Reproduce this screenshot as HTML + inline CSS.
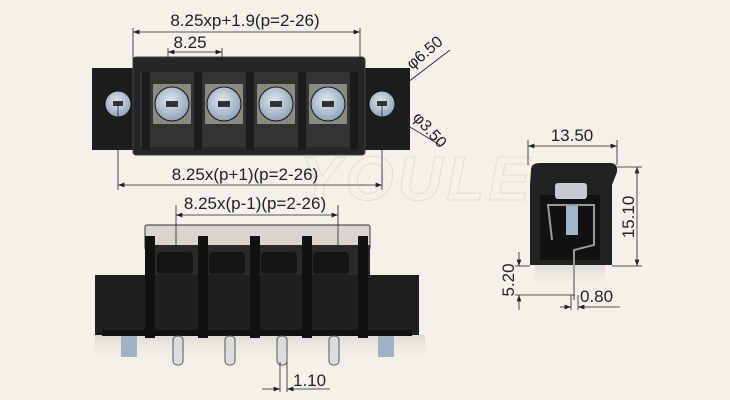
<!DOCTYPE html>
<html><head><style>
body{margin:0;background:#f3f1ea;}
svg{display:block;font-family:"Liberation Sans",sans-serif;}
</style></head><body>
<svg width="730" height="400" viewBox="0 0 730 400">
<defs>
<marker id="a" markerWidth="8" markerHeight="6" refX="8" refY="3" orient="auto"><path d="M0,0L8,3L0,6z" fill="#222"/></marker>
<marker id="b" markerWidth="8" markerHeight="6" refX="0" refY="3" orient="auto"><path d="M8,0L0,3L8,6z" fill="#222"/></marker>
<radialGradient id="s" cx="0.45" cy="0.4" r="0.6"><stop offset="0" stop-color="#dfe8f0"/><stop offset="1" stop-color="#8fa4b8"/></radialGradient>
<linearGradient id="sh" x1="0" y1="0" x2="0" y2="1"><stop offset="0" stop-color="#d4d2cc" stop-opacity=".7"/><stop offset="1" stop-color="#f3f1ea" stop-opacity="0"/></linearGradient>
</defs>
<rect width="730" height="400" fill="#f3f1ea"/>
<!-- watermark -->
<text x="300" y="200" font-size="62" font-style="italic" font-weight="bold" fill="none" stroke="#e0ddd5" stroke-width="1" letter-spacing="4">YOULE</text>

<!-- TOP VIEW -->
<rect x="92" y="68" width="318" height="82" fill="#1d1d1d"/>
<rect x="133" y="57" width="232" height="98" rx="3" fill="#262626" stroke="#444"/>
<rect x="140" y="72" width="218" height="75" fill="#333"/>
<g fill="#1a1a1a">
<rect x="142" y="72" width="8" height="78"/><rect x="194" y="72" width="8" height="78"/><rect x="246" y="72" width="8" height="78"/><rect x="298" y="72" width="8" height="78"/><rect x="350" y="72" width="8" height="78"/>
</g>
<g fill="#8a8a80"><rect x="153" y="84" width="38" height="40"/><rect x="205" y="84" width="38" height="40"/><rect x="257" y="84" width="38" height="40"/><rect x="309" y="84" width="38" height="40"/></g>
<g fill="url(#s)" stroke="#111">
<circle cx="172" cy="104" r="17"/><circle cx="224" cy="104" r="17"/><circle cx="276" cy="104" r="17"/><circle cx="328" cy="104" r="17"/>
<circle cx="118" cy="104" r="13"/><circle cx="382" cy="104" r="13"/>
</g>
<g fill="#333"><rect x="166" y="101" width="12" height="6"/><rect x="218" y="101" width="12" height="6"/><rect x="270" y="101" width="12" height="6"/><rect x="322" y="101" width="12" height="6"/><rect x="113" y="101" width="10" height="5"/><rect x="377" y="101" width="10" height="5"/></g>
<g stroke="#222" fill="none" stroke-width="0.8">
<line x1="133" y1="60" x2="133" y2="28"/><line x1="360" y1="60" x2="360" y2="28"/>
<line x1="133" y1="32" x2="360" y2="32" marker-start="url(#b)" marker-end="url(#a)"/>
<line x1="168" y1="62" x2="168" y2="48"/><line x1="222" y1="62" x2="222" y2="48"/>
<line x1="168" y1="52" x2="222" y2="52" marker-start="url(#b)" marker-end="url(#a)"/>
<line x1="118" y1="104" x2="118" y2="190"/><line x1="382" y1="104" x2="382" y2="190"/>
<line x1="118" y1="185" x2="382" y2="185" marker-start="url(#b)" marker-end="url(#a)"/>
<line x1="395" y1="92" x2="450" y2="50"/><line x1="390" y1="115" x2="440" y2="145"/>
</g>
<text x="245" y="26" font-size="17" text-anchor="middle" fill="#222">8.25xp+1.9(p=2-26)</text>
<text x="190" y="48" font-size="17" text-anchor="middle" fill="#222">8.25</text>
<text x="245" y="180" font-size="17" text-anchor="middle" fill="#222">8.25x(p+1)(p=2-26)</text>
<text x="0" y="0" font-size="16" fill="#222" transform="translate(412,70) rotate(-40)">φ6.50</text>
<text x="0" y="0" font-size="16" fill="#222" transform="translate(412,118) rotate(48)">φ3.50</text>

<!-- FRONT VIEW -->
<rect x="95" y="335" width="330" height="30" fill="url(#sh)"/>
<rect x="145" y="225" width="225" height="25" rx="2" fill="#d8d6cf" stroke="#333"/>
<rect x="145" y="245" width="225" height="32" fill="#2a2a2a"/>
<g fill="#151515"><rect x="157" y="252" width="36" height="22" rx="4"/><rect x="209" y="252" width="36" height="22" rx="4"/><rect x="261" y="252" width="36" height="22" rx="4"/><rect x="313" y="252" width="36" height="22" rx="4"/></g>
<rect x="95" y="275" width="324" height="60" fill="#1f1f1f"/>
<rect x="102" y="330" width="310" height="6" fill="#111"/>
<g fill="#111"><rect x="145" y="236" width="10" height="102"/><rect x="198" y="236" width="10" height="102"/><rect x="250" y="236" width="10" height="102"/><rect x="302" y="236" width="10" height="102"/><rect x="358" y="236" width="10" height="102"/></g>
<g fill="#ddd" stroke="#555"><rect x="173" y="336" width="10" height="29" rx="4"/><rect x="225" y="336" width="10" height="29" rx="4"/><rect x="277" y="336" width="10" height="29" rx="4"/><rect x="329" y="336" width="10" height="29" rx="4"/></g>
<g fill="#9fb3c5"><rect x="121" y="336" width="16" height="21"/><rect x="378" y="336" width="16" height="21"/></g>
<g stroke="#222" fill="none" stroke-width="0.8">
<line x1="176" y1="205" x2="176" y2="245"/><line x1="338" y1="205" x2="338" y2="245"/>
<line x1="176" y1="215" x2="338" y2="215" marker-start="url(#b)" marker-end="url(#a)"/>
<line x1="280" y1="362" x2="280" y2="392"/><line x1="287" y1="362" x2="287" y2="392"/>
<line x1="262" y1="389" x2="280" y2="389" marker-end="url(#a)"/><line x1="330" y1="389" x2="287" y2="389" marker-end="url(#a)"/>
</g>
<text x="255" y="209" font-size="17" text-anchor="middle" fill="#222">8.25x(p-1)(p=2-26)</text>
<text x="293" y="386" font-size="17" fill="#222">1.10</text>

<!-- SIDE VIEW -->
<rect x="535" y="265" width="70" height="25" fill="url(#sh)"/>
<path d="M531,170 Q531,163 540,163 L610,163 Q618,163 617,172 L612,185 L612,265 L530,265 L530,185 Z" fill="#222"/>
<rect x="540" y="195" width="60" height="65" fill="#111"/>
<rect x="555" y="183" width="32" height="16" rx="3" fill="#c7cbd0"/>
<rect x="566" y="205" width="12" height="30" fill="#9fb6cc"/>
<path d="M552,240 L548,205 L594,205 L594,245 L574,250 L574,300" fill="none" stroke="#999" stroke-width="2"/>
<g stroke="#222" fill="none" stroke-width="0.8">
<line x1="528" y1="140" x2="528" y2="165"/><line x1="617" y1="140" x2="617" y2="165"/>
<line x1="528" y1="146" x2="617" y2="146" marker-start="url(#b)" marker-end="url(#a)"/>
<line x1="612" y1="167" x2="642" y2="167"/><line x1="612" y1="266" x2="642" y2="266"/>
<line x1="637" y1="167" x2="637" y2="266" marker-start="url(#b)" marker-end="url(#a)"/>
<line x1="515" y1="266" x2="530" y2="266"/><line x1="515" y1="295" x2="575" y2="295"/>
<line x1="519" y1="252" x2="519" y2="266" marker-end="url(#a)"/><line x1="519" y1="310" x2="519" y2="295" marker-end="url(#a)"/>
<line x1="560" y1="307" x2="571" y2="307" marker-end="url(#a)"/><line x1="620" y1="307" x2="578" y2="307" marker-end="url(#a)"/>
<line x1="571" y1="295" x2="571" y2="310"/><line x1="578" y1="295" x2="578" y2="310"/>
</g>
<text x="572" y="141" font-size="17" text-anchor="middle" fill="#222">13.50</text>
<text font-size="17" fill="#222" text-anchor="middle" transform="translate(634,217) rotate(-90)">15.10</text>
<text font-size="17" fill="#222" text-anchor="middle" transform="translate(514,280) rotate(-90)">5.20</text>
<text x="580" y="302" font-size="17" fill="#222">0.80</text>
</svg>
</body></html>
